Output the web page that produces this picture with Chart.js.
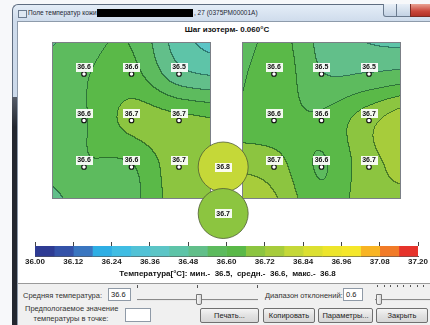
<!DOCTYPE html>
<html>
<head>
<meta charset="utf-8">
<script src="https://cdn.jsdelivr.net/npm/chart.js@4/dist/chart.umd.min.js"></script>
<style>
html,body{margin:0;padding:0;width:430px;height:325px;overflow:hidden;background:#f7f8fa;font-family:"Liberation Sans",Arial,sans-serif}
.abs{position:absolute}
#frame{left:12px;top:4px;width:425px;height:330px;background:linear-gradient(180deg,#e4edf7 0,#cfdcec 16px,#c4d3e5 100%);border-left:1px solid #5f6d80;border-top:1px solid #5f6d80;border-radius:6px 0 0 0}
#frameDark{left:12px;top:97px;width:5px;height:228px;background:linear-gradient(180deg,#555c68,#23272f 30px)}
#icon{left:18px;top:10px;width:7px;height:6px;background:#dfe8f2;border:1px solid #6c7c90}
#ttl{left:28px;top:9px;font-size:6.5px;color:#1d2633;white-space:nowrap}
#redact{left:97px;top:9px;width:96px;height:8px;background:#000}
#ttl2{left:194px;top:9px;font-size:6.5px;color:#1d2633;white-space:nowrap}
.cap{top:4px;height:12px;border:1px solid #6a7a8e;border-top:none;background:linear-gradient(#e8eff7,#c3d2e4)}
#cmin{left:383px;width:12px;border-radius:0 0 0 3px}
#cmax{left:396px;width:13px}
#cclose{left:410px;width:22px;background:linear-gradient(#e9a293,#c9463a 60%,#b23227);border-color:#7a2b24}
#client{left:17px;top:21px;width:413px;height:262px;background:#fff;border-left:1px solid #8e9bab;border-top:1px solid #8e9bab}
#step{left:17px;top:25px;width:420px;text-align:center;font-weight:bold;font-size:8px;color:#111}
#panel{left:17px;top:283px;width:413px;height:42px;background:#f0f0f0;border-top:1px solid #9a9a9a;border-left:1px solid #8e9bab}
.lbl{font-size:7.5px;color:#333;white-space:nowrap}
.inp{background:#fff;border:1px solid #8f9aa7;font-size:7.5px;color:#222;line-height:11px;padding-left:2px;box-sizing:border-box}
.btn{top:308px;height:15px;box-sizing:border-box;border:1px solid #707070;border-radius:2px;background:linear-gradient(#f4f4f4,#e2e2e2 50%,#d6d6d6);font-size:7.5px;color:#222;text-align:center;line-height:13px}
.tick{width:1px;height:3px;background:#555}
.track{height:1px;background:#8a8a8a;border-bottom:1px solid #e8e8e8}
.thumb{width:4px;height:9px;background:linear-gradient(90deg,#f5f5f5,#d9d9d9);border:1px solid #777;border-radius:0 0 2px 2px}
canvas{position:absolute;left:0}
</style>
</head>
<body>
<div id="frame" class="abs"></div>
<div id="frameDark" class="abs"></div>
<div id="icon" class="abs"></div>
<div id="ttl" class="abs">Поле температур кожи</div>
<div id="redact" class="abs"></div>
<div id="ttl2" class="abs">, 27 (0375PM00001A)</div>
<div id="cmin" class="abs cap"></div>
<div id="cmax" class="abs cap"></div>
<div id="cclose" class="abs cap"></div>
<div id="client" class="abs"></div>
<div id="step" class="abs"></div>
<div id="panel" class="abs"></div>

<div class="abs lbl" style="left:23px;top:291px">Средняя температура:</div>
<div class="abs inp" style="left:108px;top:288px;width:23px;height:13px">36.6</div>
<div class="abs tick" style="left:137px;top:285px"></div>
<div class="abs tick" style="left:197px;top:285px"></div>
<div class="abs tick" style="left:257px;top:285px"></div>
<div class="abs track" style="left:137px;top:299px;width:121px"></div>
<div class="abs thumb" style="left:196px;top:294px"></div>

<div class="abs lbl" style="left:265px;top:291px">Диапазон отклонений:</div>
<div class="abs inp" style="left:343px;top:288px;width:20px;height:13px">0.6</div>
<div id="ticks2"></div>
<div class="abs track" style="left:375px;top:299px;width:55px"></div>
<div class="abs thumb" style="left:376px;top:294px"></div>

<div class="abs lbl" style="left:25px;top:304px;width:92px;text-align:center">Предпологаемое значение</div>
<div class="abs lbl" style="left:25px;top:314px;width:92px;text-align:center">температуры в точке:</div>
<div class="abs inp" style="left:125px;top:308px;width:26px;height:14px"></div>

<div class="abs btn" style="left:200px;width:59px">Печать...</div>
<div class="abs btn" style="left:263px;width:52px">Копировать</div>
<div class="abs btn" style="left:318px;width:55px">Параметры...</div>
<div class="abs btn" style="left:376px;width:52px">Закрыть</div>

<canvas id="mapChart" width="430" height="245" style="top:0"></canvas>
<canvas id="barChart" width="430" height="44" style="top:238px"></canvas>

<script>
// Isotherm scale
const T0 = 36.00;
const STEP = 0.06;
const colorbarTicks = [36.00, 36.12, 36.24, 36.36, 36.48, 36.60, 36.72, 36.84, 36.96, 37.08, 37.20];

// One colour per isotherm band (20 bands of 0.06 °C)
const bandColors = [
  '#2e3b93', '#3452a8', '#3a76c0', '#2eaee4', '#40bde3',
  '#52c2d6', '#5cc5c6', '#5ec4a8', '#62bf8a', '#5dbb5e',
  '#5ab948', '#8cc540', '#a7cc3b', '#c5d838', '#dce031',
  '#ede52b', '#f5e72a', '#f8b423', '#f17b28', '#e6332b'
];

// Temperature nodes of each field, 5x5: outer ring = field edge,
// inner 3x3 = the measuring points (rows top to bottom)
const leftNodes = [
  [36.50, 36.57, 36.59, 36.44, 36.36],
  [36.56, 36.595, 36.62, 36.50, 36.47],
  [36.57, 36.595, 36.68, 36.68, 36.66],
  [36.55, 36.595, 36.595, 36.70, 36.72],
  [36.48, 36.56, 36.58, 36.69, 36.70]
];
const rightNodes = [
  [36.50, 36.62, 36.52, 36.46, 36.44],
  [36.56, 36.64, 36.543, 36.543, 36.56],
  [36.62, 36.62, 36.61, 36.70, 36.78],
  [36.71, 36.69, 36.595, 36.70, 36.74],
  [36.80, 36.74, 36.62, 36.70, 36.70]
];

// Column offset of each field in the common coordinate system
const fieldOffsets = [0, 4];

// Central points (values and positions)
const centerValues = [36.80, 36.70];
const centerX = [2.93, 2.93];
const centerY = [2, 3];

// ---- layout constants (pixels) ----
const PX_ORIGIN = 84, PX_UNIT = 47.5;   // column 0 and column spacing
const PY_ORIGIN = 74, PY_UNIT = 46.5;   // row 0 and row spacing
const W = 430, H = 245;
const EXT = 0.66;                        // field margin beyond outer points
const CENTER_R = 25;

document.getElementById('step').textContent = 'Шаг изотерм- ' + STEP.toFixed(3) + '°C';
(function () {
  const host = document.getElementById('ticks2');
  for (let i = 0; i < 9; i++) {
    const d = document.createElement('div');
    d.className = 'abs tick';
    d.style.left = (377 + i * 6.6) + 'px';
    d.style.top = '285px';
    d.style.height = '2px';
    host.appendChild(d);
  }
})();

function bandOf(t) {
  let b = Math.floor((t - T0) / STEP + 1e-9);
  return Math.max(0, Math.min(bandColors.length - 1, b));
}
function hexRgb(h) {
  return [parseInt(h.slice(1, 3), 16), parseInt(h.slice(3, 5), 16), parseInt(h.slice(5, 7), 16)];
}
const bandRgb = bandColors.map(hexRgb);

// Catmull-Rom interpolation across the 5x5 node grid (node k sits at coordinate k-1)
function cr(p0, p1, p2, p3, t) {
  return p1 + 0.5 * t * (p2 - p0 + t * (2 * p0 - 5 * p1 + 4 * p2 - p3 + t * (3 * (p1 - p2) + p3 - p0)));
}
function sampleField(g, u, v) {
  const fu = u + 1, fv = v + 1;
  const iu = Math.min(Math.max(Math.floor(fu), 0), 3);
  const iv = Math.min(Math.max(Math.floor(fv), 0), 3);
  const tu = fu - iu, tv = fv - iv;
  const at = (r, c) => g[Math.min(Math.max(r, 0), 4)][Math.min(Math.max(c, 0), 4)];
  const rows = [-1, 0, 1, 2].map(d => cr(at(iv + d, iu - 1), at(iv + d, iu), at(iv + d, iu + 1), at(iv + d, iu + 2), tu));
  return cr(rows[0], rows[1], rows[2], rows[3], tv);
}

const fields = [
  { nodes: leftNodes, offset: fieldOffsets[0] },
  { nodes: rightNodes, offset: fieldOffsets[1] }
];

// Measuring points of both fields
const sensorPoints = [];
fields.forEach(f => {
  for (let r = 0; r < 3; r++) for (let c = 0; c < 3; c++) {
    sensorPoints.push({ x: f.offset + c, y: r, v: f.nodes[r + 1][c + 1] });
  }
});
const centerPoints = centerValues.map((v, i) => ({ x: centerX[i], y: centerY[i], r: CENTER_R, v }));

// Paints both isotherm fields with their contour lines
const fieldPlugin = {
  id: 'isothermFields',
  beforeDatasetsDraw(chart) {
    const { ctx, scales: { x, y } } = chart;
    fields.forEach(f => {
      const x0 = Math.round(x.getPixelForValue(f.offset - EXT));
      const x1 = Math.round(x.getPixelForValue(f.offset + 2 + EXT));
      const y0 = Math.round(y.getPixelForValue(-EXT));
      const y1 = Math.round(y.getPixelForValue(2 + EXT));
      const w = x1 - x0, h = y1 - y0;
      const bands = new Int16Array(w * h);
      for (let j = 0; j < h; j++) {
        const v = y.getValueForPixel(y0 + j + 0.5);
        for (let i = 0; i < w; i++) {
          const u = x.getValueForPixel(x0 + i + 0.5) - f.offset;
          bands[j * w + i] = bandOf(sampleField(f.nodes, u, v));
        }
      }
      const off = document.createElement('canvas');
      off.width = w; off.height = h;
      const octx = off.getContext('2d');
      const img = octx.createImageData(w, h);
      for (let j = 0; j < h; j++) for (let i = 0; i < w; i++) {
        const k = j * w + i, b = bands[k];
        const c = bandRgb[b];
        const edge = (i < w - 1 && bands[k + 1] !== b) || (j < h - 1 && bands[k + w] !== b);
        const p = k * 4;
        const f = edge ? 0.62 : 1;
        img.data[p] = c[0] * (edge ? 0.5 : 1);
        img.data[p + 1] = c[1] * f;
        img.data[p + 2] = c[2] * f;
        img.data[p + 3] = 255;
      }
      octx.putImageData(img, 0, 0);
      ctx.save();
      ctx.drawImage(off, x0, y0);
      ctx.strokeStyle = '#7b7f86';
      ctx.lineWidth = 1;
      ctx.strokeRect(x0 - 0.5, y0 - 0.5, w + 1, h + 1);
      ctx.restore();
    });
  }
};

// Value boxes above the measuring points and inside the central circles
function drawTag(ctx, text, cx, cy) {
  ctx.font = 'bold 7px "Liberation Sans", Arial, sans-serif';
  const tw = ctx.measureText(text).width;
  ctx.fillStyle = 'rgba(255,255,255,0.92)';
  ctx.fillRect(Math.round(cx - tw / 2 - 1.5), Math.round(cy - 4.5), Math.round(tw + 3), 9);
  ctx.fillStyle = '#111';
  ctx.textAlign = 'center';
  ctx.textBaseline = 'middle';
  ctx.fillText(text, cx, cy + 0.5);
}
const tagPlugin = {
  id: 'valueTags',
  afterDatasetsDraw(chart) {
    const { ctx } = chart;
    ctx.save();
    chart.getDatasetMeta(0).data.forEach((el, i) => {
      drawTag(ctx, sensorPoints[i].v.toFixed(1), el.x, el.y - 7);
    });
    chart.getDatasetMeta(1).data.forEach((el, i) => {
      drawTag(ctx, centerPoints[i].v.toFixed(1), el.x, el.y);
    });
    ctx.restore();
  }
};

new Chart(document.getElementById('mapChart'), {
  type: 'scatter',
  data: {
    datasets: [
      {
        data: sensorPoints,
        pointRadius: 2.3,
        pointBackgroundColor: '#fff',
        pointBorderColor: '#111',
        pointBorderWidth: 1.1,
        order: 2
      },
      {
        type: 'bubble',
        data: centerPoints,
        backgroundColor: c => bandColors[bandOf(c.raw.v)],
        borderColor: '#4f5d35',
        borderWidth: 0.8,
        order: 1
      }
    ]
  },
  options: {
    responsive: false,
    animation: false,
    devicePixelRatio: 1,
    events: [],
    layout: { padding: 0, autoPadding: false },
    plugins: { legend: { display: false }, tooltip: { enabled: false } },
    scales: {
      x: { type: 'linear', display: false, min: -PX_ORIGIN / PX_UNIT, max: (W - PX_ORIGIN) / PX_UNIT },
      y: { type: 'linear', display: false, reverse: true, min: -PY_ORIGIN / PY_UNIT, max: (H - PY_ORIGIN) / PY_UNIT }
    }
  },
  plugins: [fieldPlugin, tagPlugin]
});

// Summary line under the colour scale
const allValues = sensorPoints.map(p => p.v).concat(centerValues);
const tMin = Math.min(...allValues), tMax = Math.max(...allValues);
const tAvg = allValues.reduce((a, b) => a + b, 0) / allValues.length;
const summary = 'Температура[°C]: мин.-  ' + tMin.toFixed(1) + ',  средн.-  ' + tAvg.toFixed(1) + ',  макс.-  ' + tMax.toFixed(1);

const summaryPlugin = {
  id: 'scaleSummary',
  afterDraw(chart) {
    const { ctx, chartArea: a } = chart;
    ctx.save();
    ctx.font = 'bold 8px "Liberation Sans", Arial, sans-serif';
    ctx.fillStyle = '#111';
    ctx.textAlign = 'center';
    ctx.textBaseline = 'middle';
    ctx.fillText(summary, (a.left + a.right) / 2 + 1, a.bottom + 17);
    ctx.restore();
  }
};

const fixedTicks = s => { s.ticks = colorbarTicks.map(v => ({ value: v })); };
const tickFont = { family: '"Liberation Sans", Arial, sans-serif', size: 8, weight: 'bold' };

new Chart(document.getElementById('barChart'), {
  type: 'bar',
  data: {
    labels: [''],
    datasets: bandColors.map((c, i) => ({
      data: [[T0 + i * STEP, T0 + (i + 1) * STEP]],
      backgroundColor: c,
      borderWidth: 0,
      grouped: false,
      barPercentage: 1,
      categoryPercentage: 1
    }))
  },
  options: {
    indexAxis: 'y',
    responsive: false,
    animation: false,
    devicePixelRatio: 1,
    events: [],
    layout: { padding: { left: 35, right: 12, top: 4, bottom: 14 } },
    plugins: { legend: { display: false }, tooltip: { enabled: false } },
    scales: {
      y: { display: false },
      x: {
        type: 'linear', position: 'bottom', min: colorbarTicks[0], max: colorbarTicks[colorbarTicks.length - 1],
        afterBuildTicks: fixedTicks,
        grid: { display: false, drawTicks: false },
        border: { display: true, color: '#555' },
        ticks: { font: tickFont, color: '#222', padding: 1, maxRotation: 0, autoSkip: false, callback: v => v.toFixed(2) }
      },
      x2: {
        type: 'linear', position: 'top', min: colorbarTicks[0], max: colorbarTicks[colorbarTicks.length - 1],
        afterBuildTicks: fixedTicks,
        grid: { drawOnChartArea: false, drawTicks: true, tickLength: 4, color: '#444' },
        border: { display: false },
        ticks: { display: false }
      }
    }
  },
  plugins: [summaryPlugin]
});
</script>
</body>
</html>
